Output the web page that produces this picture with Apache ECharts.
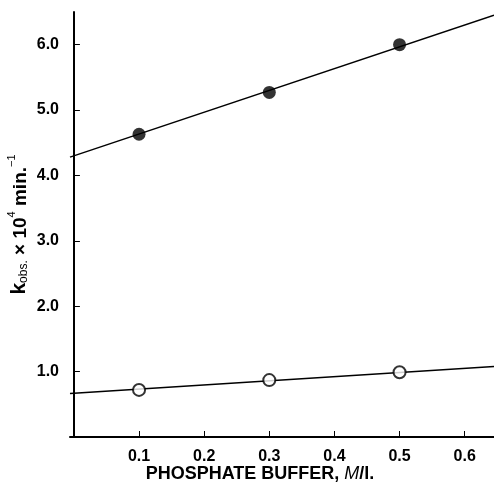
<!DOCTYPE html>
<html><head><meta charset="utf-8">
<script src="https://cdn.jsdelivr.net/npm/echarts@6/dist/echarts.min.js"></script>
<style>html,body{margin:0;padding:0;background:#fff}#c{width:494px;height:485px}</style>
</head><body><div id="c"></div>
<script>
// Data
var xTicks = [0.1, 0.2, 0.3, 0.4, 0.5, 0.6];
var yTicks = [1.0, 2.0, 3.0, 4.0, 5.0, 6.0];
var bufferConc = [0.1, 0.3, 0.5];
var filledK = [4.63, 5.27, 6.00];
var openK = [0.72, 0.87, 0.99];
var lineX = [-0.006, 0.645];
var filledLineK = [4.28, 6.45];
var openLineK = [0.664, 1.077];

function pairs(xs, ys){ return xs.map(function(x,i){ return [x, ys[i]]; }); }

var chart = echarts.init(document.getElementById('c'));
var font = 'Liberation Sans, Arial, sans-serif';
chart.setOption({
  animation: false,
  grid: {left: 70, right: 0, top: 12, bottom: 48, containLabel: false, outerBoundsMode: 'none'},
  xAxis: {
    type: 'value', min: -0.006, max: 0.645,
    splitLine: {show: false},
    axisLine: {onZero: false, lineStyle: {color: '#000', width: 2}},
    axisTick: {inside: true, length: 6, customValues: xTicks, lineStyle: {color: '#000', width: 1}},
    axisLabel: {customValues: xTicks, color: '#000', fontFamily: font, fontWeight: 'bold', fontSize: 16, margin: 12,
      formatter: function(v){ return v.toFixed(1); }},
    name: '{t|PHOSPHATE BUFFER, }{m|M}{t|/l.}',
    nameLocation: 'middle', nameGap: 28, nameMoveOverlap: false,
    nameTextStyle: {padding: [0, 44, 0, 0], rich: {
      t: {fontFamily: font, fontSize: 18, fontWeight: 'bold', color: '#000'},
      m: {fontFamily: font, fontSize: 18, color: '#000', fontStyle: 'italic'}
    }}
  },
  yAxis: {
    type: 'value', min: 0, max: 6.5,
    splitLine: {show: false},
    axisLine: {lineStyle: {color: '#000', width: 2}},
    axisTick: {inside: true, length: 6, customValues: yTicks, lineStyle: {color: '#000', width: 1}},
    axisLabel: {customValues: yTicks, color: '#000', fontFamily: font, fontWeight: 'bold', fontSize: 16, margin: 11,
      formatter: function(v){ return v.toFixed(1); }},
    name: '{k|k}{sub|obs.}{n| × 10}{sup|4}{n| min.}{sup|−1}',
    nameLocation: 'middle', nameGap: 40, nameRotate: 90, nameMoveOverlap: false,
    nameTextStyle: {padding: [0, 0, 0, 0], rich: {
      k: {fontFamily: font, fontSize: 21, fontWeight: 'bold', color: '#000', verticalAlign: 'bottom', lineHeight: 22},
      sub: {fontFamily: font, fontSize: 12, color: '#000', verticalAlign: 'bottom', lineHeight: 16},
      n: {fontFamily: font, fontSize: 19, fontWeight: 'bold', color: '#000', verticalAlign: 'bottom', lineHeight: 22},
      sup: {fontFamily: font, fontSize: 11, color: '#000', verticalAlign: 'top', lineHeight: 24}
    }}
  },
  series: [
    {type: 'line', data: pairs(lineX, filledLineK), symbol: 'none', lineStyle: {color: '#000', width: 1.5}, z: 2},
    {type: 'line', data: pairs(lineX, openLineK), symbol: 'none', lineStyle: {color: '#000', width: 1.5}, z: 2},
    {type: 'scatter', data: pairs(bufferConc, filledK), symbol: 'circle', symbolSize: 13,
      itemStyle: {color: '#000'}, z: 3},
    {type: 'scatter', data: pairs(bufferConc, openK), symbol: 'circle', symbolSize: 12,
      itemStyle: {color: '#fff', borderColor: '#000', borderWidth: 2}, z: 3}
  ]
});
</script></body></html>
